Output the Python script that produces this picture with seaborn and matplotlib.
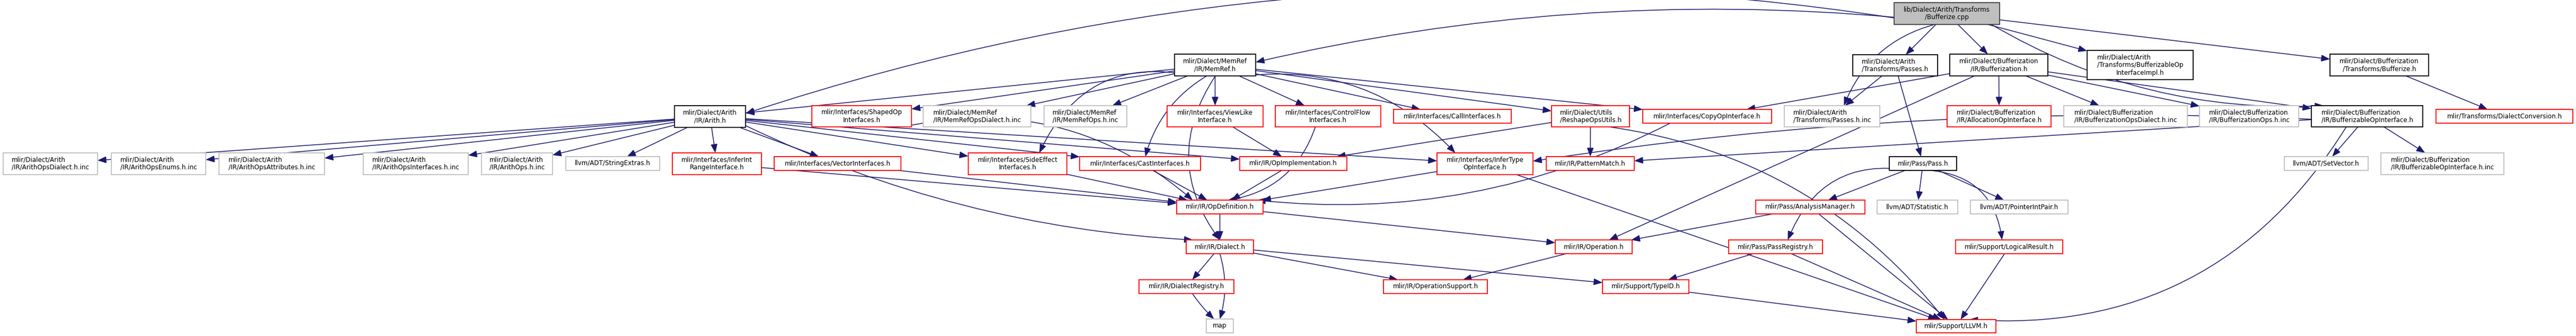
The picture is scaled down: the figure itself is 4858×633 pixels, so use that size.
import matplotlib
matplotlib.use("Agg")
import matplotlib.pyplot as plt
import seaborn as sns
from matplotlib.patches import Rectangle

# node ids and their labels
node_ids = [
    "root", "memref", "arith_passes", "buf", "bopimpl", "bufferize_h",
    "arith", "shaped", "memref_dialect_inc", "memref_ops_inc", "viewlike",
    "controlflow", "call", "reshape", "copy", "passes_inc", "alloc",
    "buf_dialect_inc", "buf_ops_inc", "bufiface", "dialectconv",
    "ops_dialect_inc", "ops_enums_inc", "ops_attr_inc", "ops_iface_inc",
    "ops_inc", "stringextras", "inferint", "vector", "sideeffect", "cast",
    "opimpl", "infertype", "patternmatch", "pass", "setvector", "bufiface_inc",
    "opdef", "analysis", "statistic", "pointerintpair",
    "dialect", "operation", "passregistry", "logicalresult",
    "dialectregistry", "opsupport", "typeid", "map", "llvm",
]
node_labels = [
    "lib/Dialect/Arith/Transforms\n/Bufferize.cpp",
    "mlir/Dialect/MemRef\n/IR/MemRef.h",
    "mlir/Dialect/Arith\n/Transforms/Passes.h",
    "mlir/Dialect/Bufferization\n/IR/Bufferization.h",
    "mlir/Dialect/Arith\n/Transforms/BufferizableOp\nInterfaceImpl.h",
    "mlir/Dialect/Bufferization\n/Transforms/Bufferize.h",
    "mlir/Dialect/Arith\n/IR/Arith.h",
    "mlir/Interfaces/ShapedOp\nInterfaces.h",
    "mlir/Dialect/MemRef\n/IR/MemRefOpsDialect.h.inc",
    "mlir/Dialect/MemRef\n/IR/MemRefOps.h.inc",
    "mlir/Interfaces/ViewLike\nInterface.h",
    "mlir/Interfaces/ControlFlow\nInterfaces.h",
    "mlir/Interfaces/CallInterfaces.h",
    "mlir/Dialect/Utils\n/ReshapeOpsUtils.h",
    "mlir/Interfaces/CopyOpInterface.h",
    "mlir/Dialect/Arith\n/Transforms/Passes.h.inc",
    "mlir/Dialect/Bufferization\n/IR/AllocationOpInterface.h",
    "mlir/Dialect/Bufferization\n/IR/BufferizationOpsDialect.h.inc",
    "mlir/Dialect/Bufferization\n/IR/BufferizationOps.h.inc",
    "mlir/Dialect/Bufferization\n/IR/BufferizableOpInterface.h",
    "mlir/Transforms/DialectConversion.h",
    "mlir/Dialect/Arith\n/IR/ArithOpsDialect.h.inc",
    "mlir/Dialect/Arith\n/IR/ArithOpsEnums.h.inc",
    "mlir/Dialect/Arith\n/IR/ArithOpsAttributes.h.inc",
    "mlir/Dialect/Arith\n/IR/ArithOpsInterfaces.h.inc",
    "mlir/Dialect/Arith\n/IR/ArithOps.h.inc",
    "llvm/ADT/StringExtras.h",
    "mlir/Interfaces/InferInt\nRangeInterface.h",
    "mlir/Interfaces/VectorInterfaces.h",
    "mlir/Interfaces/SideEffect\nInterfaces.h",
    "mlir/Interfaces/CastInterfaces.h",
    "mlir/IR/OpImplementation.h",
    "mlir/Interfaces/InferType\nOpInterface.h",
    "mlir/IR/PatternMatch.h",
    "mlir/Pass/Pass.h",
    "llvm/ADT/SetVector.h",
    "mlir/Dialect/Bufferization\n/IR/BufferizableOpInterface.h.inc",
    "mlir/IR/OpDefinition.h",
    "mlir/Pass/AnalysisManager.h",
    "llvm/ADT/Statistic.h",
    "llvm/ADT/PointerIntPair.h",
    "mlir/IR/Dialect.h",
    "mlir/IR/Operation.h",
    "mlir/Pass/PassRegistry.h",
    "mlir/Support/LogicalResult.h",
    "mlir/IR/DialectRegistry.h",
    "mlir/IR/OperationSupport.h",
    "mlir/Support/TypeID.h",
    "map",
    "mlir/Support/LLVM.h",
]
# root = the file itself, doc = documented header, red = truncated, gray = undocumented
node_kinds = [
    "root", "doc", "doc", "doc", "doc", "doc",
    "doc", "red", "gray", "gray", "red",
    "red", "red", "red", "red", "gray", "red",
    "gray", "gray", "doc", "red",
    "gray", "gray", "gray", "gray",
    "gray", "gray", "red", "red", "red", "red",
    "red", "red", "red", "doc", "gray", "gray",
    "red", "red", "gray", "gray",
    "red", "red", "red", "red",
    "red", "red", "red", "gray", "red",
]

# include edges (source includes target)
edges = [
    ("root", "arith"), ("root", "memref"), ("root", "arith_passes"),
    ("root", "buf"), ("root", "bopimpl"), ("root", "bufferize_h"),
    ("root", "passes_inc"), ("root", "bufiface"),
    ("memref", "arith"), ("memref", "shaped"), ("memref", "memref_dialect_inc"),
    ("memref", "memref_ops_inc"), ("memref", "viewlike"), ("memref", "controlflow"),
    ("memref", "call"), ("memref", "reshape"), ("memref", "copy"),
    ("memref", "infertype"), ("memref", "cast"), ("memref", "sideeffect"),
    ("memref", "dialect"),
    ("arith", "ops_dialect_inc"), ("arith", "ops_enums_inc"), ("arith", "ops_attr_inc"),
    ("arith", "ops_iface_inc"), ("arith", "ops_inc"), ("arith", "stringextras"),
    ("arith", "inferint"), ("arith", "vector"), ("arith", "sideeffect"),
    ("arith", "cast"), ("arith", "opimpl"), ("arith", "infertype"),
    ("arith", "dialect"),
    ("arith_passes", "passes_inc"), ("arith_passes", "pass"),
    ("buf", "alloc"), ("buf", "buf_dialect_inc"), ("buf", "buf_ops_inc"),
    ("buf", "bufiface"), ("buf", "copy"), ("buf", "operation"),
    ("bufferize_h", "dialectconv"),
    ("bufiface", "setvector"), ("bufiface", "bufiface_inc"),
    ("bufiface", "patternmatch"), ("bufiface", "infertype"), ("bufiface", "llvm"),
    ("shaped", "opdef"), ("viewlike", "opimpl"), ("controlflow", "opdef"),
    ("copy", "opdef"), ("reshape", "opimpl"), ("reshape", "patternmatch"),
    ("reshape", "llvm"),
    ("inferint", "opdef"), ("vector", "opdef"), ("sideeffect", "opdef"),
    ("cast", "opdef"), ("opimpl", "opdef"), ("infertype", "opdef"),
    ("infertype", "llvm"),
    ("opdef", "dialect"), ("opdef", "operation"),
    ("dialect", "dialectregistry"), ("dialect", "map"), ("dialect", "opsupport"),
    ("dialect", "typeid"), ("dialectregistry", "map"),
    ("operation", "opsupport"), ("typeid", "llvm"),
    ("pass", "analysis"), ("pass", "statistic"), ("pass", "pointerintpair"),
    ("pass", "passregistry"), ("pass", "logicalresult"),
    ("analysis", "llvm"), ("analysis", "operation"),
    ("passregistry", "typeid"), ("passregistry", "llvm"),
    ("logicalresult", "llvm"),
]

# layout: box corners in pixels (x0, y0, x1, y1), y grows downward
layout = {
    "root": (3572, 5, 3771, 46),
    "memref": (2215, 102, 2368, 143),
    "arith_passes": (3494, 103, 3654, 143),
    "buf": (3677, 102, 3862, 143),
    "bopimpl": (3936, 95, 4136, 150),
    "bufferize_h": (4394, 102, 4580, 143),
    "arith": (1272, 199, 1406, 240),
    "shaped": (1531, 199, 1719, 239),
    "memref_dialect_inc": (1741, 199, 1944, 239),
    "memref_ops_inc": (1969, 199, 2125, 239),
    "viewlike": (2201, 199, 2382, 239),
    "controlflow": (2405, 199, 2604, 239),
    "call": (2628, 206, 2850, 232),
    "reshape": (2926, 199, 3073, 239),
    "copy": (3098, 206, 3341, 232),
    "passes_inc": (3365, 199, 3545, 239),
    "alloc": (3672, 199, 3868, 239),
    "buf_dialect_inc": (3892, 199, 4125, 239),
    "buf_ops_inc": (4148, 199, 4335, 239),
    "bufiface": (4359, 199, 4569, 239),
    "dialectconv": (4594, 206, 4852, 232),
    "ops_dialect_inc": (6, 288, 184, 329),
    "ops_enums_inc": (210, 288, 388, 329),
    "ops_attr_inc": (413, 288, 612, 329),
    "ops_iface_inc": (685, 288, 883, 329),
    "ops_inc": (908, 288, 1042, 329),
    "stringextras": (1067, 295, 1244, 321),
    "inferint": (1268, 288, 1436, 329),
    "vector": (1460, 295, 1699, 321),
    "sideeffect": (1826, 288, 2012, 329),
    "cast": (2036, 295, 2264, 321),
    "opimpl": (2338, 295, 2540, 321),
    "infertype": (2710, 288, 2891, 329),
    "patternmatch": (2916, 295, 3082, 321),
    "pass": (3563, 295, 3690, 321),
    "setvector": (4308, 295, 4466, 321),
    "bufiface_inc": (4490, 288, 4722, 329),
    "opdef": (2219, 377, 2382, 403),
    "analysis": (3311, 377, 3517, 403),
    "statistic": (3540, 377, 3692, 403),
    "pointerintpair": (3716, 377, 3900, 403),
    "dialect": (2237, 452, 2364, 478),
    "operation": (2933, 452, 3078, 478),
    "passregistry": (3260, 452, 3437, 478),
    "logicalresult": (3688, 452, 3890, 478),
    "dialectregistry": (2148, 527, 2327, 553),
    "opsupport": (2609, 527, 2805, 553),
    "typeid": (3022, 527, 3185, 553),
    "map": (2275, 601, 2326, 627),
    "llvm": (3614, 602, 3764, 627),
}

# a few edges are drawn as arcs, like the spline routing of the original
bend = {
    ("root", "arith"): 0.12, ("root", "memref"): 0.08,
    ("root", "passes_inc"): 0.25, ("root", "bufiface"): 0.15,
    ("memref", "infertype"): -0.25, ("memref", "cast"): 0.2,
    ("memref", "sideeffect"): 0.4, ("memref", "dialect"): 0.35,
    ("arith", "dialect"): 0.1, ("controlflow", "opdef"): -0.3,
    ("copy", "opdef"): -0.15, ("shaped", "opdef"): -0.25,
    ("bufiface", "llvm"): -0.3, ("reshape", "llvm"): -0.2,
    ("pass", "passregistry"): 0.4, ("pass", "logicalresult"): -0.4,
    ("dialect", "map"): -0.15, ("dialectregistry", "map"): 0.05,
    ("bufiface", "infertype"): 0.05,
}

edge_colors = {"root": "#404040", "doc": "#000000", "red": "#ff0000", "gray": "#bfbfbf"}
fill_colors = {"root": "#bfbfbf", "doc": "#ffffff", "red": "#ffffff", "gray": "#ffffff"}

W, H = 4858, 633
sns.set_theme(style="white")
plt.rcParams["font.family"] = ["DejaVu Sans"]

fig = plt.figure(figsize=(W / 100, H / 100), dpi=100)
ax = fig.add_axes([0, 0, 1, 1])
ax.set_xlim(0, W)
ax.set_ylim(H, 0)
ax.axis("off")


def anchor(box, toward):
    x0, y0, x1, y1 = box
    cx, cy = (x0 + x1) / 2, (y0 + y1) / 2
    dx, dy = toward[0] - cx, toward[1] - cy
    hw, hh = (x1 - x0) / 2, (y1 - y0) / 2
    t = min(hw / abs(dx) if dx else 1e9, hh / abs(dy) if dy else 1e9)
    return cx + t * dx, cy + t * dy


def center(box):
    return (box[0] + box[2]) / 2, (box[1] + box[3]) / 2


for src, dst in edges:
    sb, db = layout[src], layout[dst]
    start = anchor(sb, center(db))
    end = anchor(db, center(sb))
    rad = bend.get((src, dst), 0.0)
    ax.annotate("", xy=end, xytext=start,
                arrowprops=dict(arrowstyle="-|>,head_length=0.9,head_width=0.35",
                                color="#191970", lw=1.1, shrinkA=0, shrinkB=0,
                                mutation_scale=11,
                                connectionstyle=f"arc3,rad={rad}"),
                zorder=1)

line_step = 14.5
texts = []
for nid, label, kind in zip(node_ids, node_labels, node_kinds):
    x0, y0, x1, y1 = layout[nid]
    ax.add_patch(Rectangle((x0, y0), x1 - x0, y1 - y0, facecolor=fill_colors[kind],
                           edgecolor=edge_colors[kind], lw=1.3, zorder=2))
    lines = label.split("\n")
    cy = (y0 + y1) / 2
    first = cy - (len(lines) - 1) * line_step / 2
    items = []
    for i, ln in enumerate(lines):
        t = ax.text((x0 + x1) / 2, first + i * line_step, ln, ha="left", va="center",
                    fontsize=8.6, color="black", zorder=3)
        items.append(t)
    texts.append(((x0 + x1) / 2, items))

# graphviz style: earlier lines left-justified in the text block, last line centered
renderer = fig.canvas.get_renderer()
for cx, items in texts:
    widths = [t.get_window_extent(renderer).width for t in items]
    left = cx - max(widths) / 2
    for i, t in enumerate(items):
        if i < len(items) - 1:
            t.set_x(left)
        else:
            t.set_x(cx - widths[i] / 2)

fig.savefig("out.png", dpi=100, facecolor="white")
